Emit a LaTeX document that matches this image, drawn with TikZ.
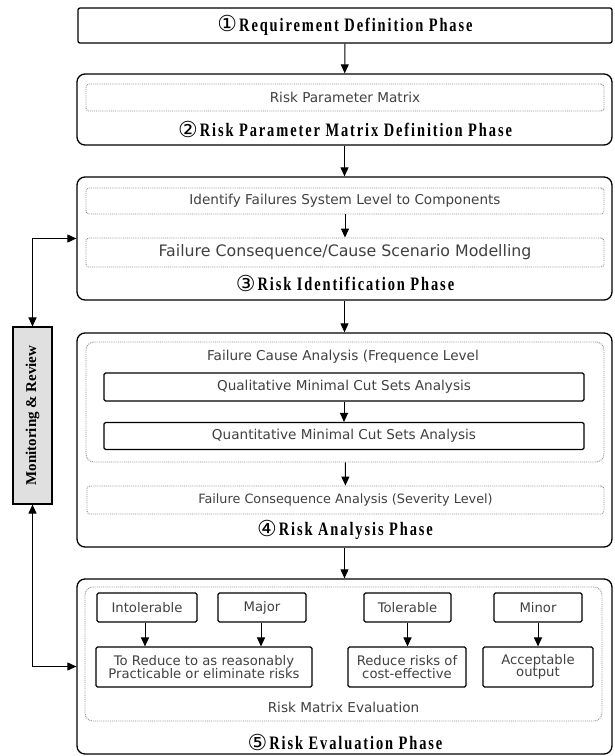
\documentclass[tikz,border=0pt]{standalone}
\usepackage{fontspec}
\usetikzlibrary{arrows.meta}
\newfontfamily\headfont[FakeStretch=0.76,LetterSpace=10]{Liberation Serif}
\newfontfamily\numfont{DejaVu Sans}
\newfontfamily\bodyfont{DejaVu Sans}
\newfontfamily\sidefont{Liberation Serif}
\newcommand{\phasetitle}[2]{\raisebox{-0.5pt}{\numfont\fontsize{22}{22}\selectfont #1}\hspace{2pt}{\headfont\bfseries\fontsize{19}{19}\selectfont #2}}
\definecolor{bodygray}{gray}{0.25}
\definecolor{dotgray}{gray}{0.55}
\definecolor{sidefill}{gray}{0.88}
\tikzset{
  phase/.style={draw, line width=1.3pt, rounded corners=8pt, inner sep=0pt},
  topbox/.style={draw, line width=1.3pt, rounded corners=2pt, inner sep=0pt},
  dotbox/.style={draw=dotgray, densely dotted, line width=0.9pt, rounded corners=3pt, inner sep=0pt},
  solidbox/.style={draw, line width=1.1pt, rounded corners=1.5pt, inner sep=0pt, align=center},
  body/.style={text=bodygray, font=\bodyfont\fontsize{13.6}{14}\selectfont},
  small/.style={text=bodygray, font=\bodyfont\fontsize{13.2}{12.2}\selectfont, align=center},
  label/.style={inner sep=0pt},
  arr/.style={line width=1pt, -{Triangle[length=9pt,width=8pt]}},
  twoarr/.style={line width=1pt, {Triangle[length=9pt,width=8pt]}-{Triangle[length=9pt,width=8pt]}},
}
\begin{document}
\begin{tikzpicture}[x=1pt,y=-1pt]
\useasboundingbox (0,0) rectangle (615,756);

% phase 1
\node[topbox, minimum width=534, minimum height=35] (p1) at (345,25.5)
  {\phasetitle{①}{Requirement Definition Phase}};

% phase 2
\node[phase, minimum width=535, minimum height=71] (p2) at (344.5,109.5) {};
\node[dotbox, minimum width=518, minimum height=27, body] (rpm) at (345,97.5) {Risk Parameter Matrix};
\node[label] (l2) at (345,129) {\phasetitle{②}{Risk Parameter Matrix Definition Phase}};

% phase 3
\node[phase, minimum width=535, minimum height=123] (p3) at (344.5,238.5) {};
\node[dotbox, minimum width=518, minimum height=26, body] (idf) at (345,201) {Identify Failures System Level to Components};
\node[dotbox, minimum width=518, minimum height=29, body, font=\bodyfont\fontsize{15.8}{16}\selectfont] (fcs) at (345,252.5) {Failure Consequence/Cause Scenario Modelling};
\node[label] (l3) at (345,283) {\phasetitle{③}{Risk Identification Phase}};

% phase 4
\node[phase, minimum width=535, minimum height=214] (p4) at (344.5,440) {};
\node[dotbox, minimum width=518, minimum height=120, rounded corners=8pt] (fca) at (345,402) {};
\node[label, body] (fcal) at (343,357) {Failure Cause Analysis (Frequence Level};
\node[solidbox, minimum width=480, minimum height=28, body] (qual) at (344,387) {Qualitative Minimal Cut Sets Analysis};
\node[solidbox, minimum width=480, minimum height=27, body] (quant) at (344,436) {Quantitative Minimal Cut Sets Analysis};
\node[dotbox, minimum width=517, minimum height=28, body, font=\bodyfont\fontsize{12.8}{13}\selectfont] (fcon) at (345.5,500) {Failure Consequence Analysis (Severity Level)};
\node[label] (l4) at (345,530) {\phasetitle{④}{Risk Analysis Phase}};

% phase 5
\node[phase, minimum width=535, minimum height=175] (p5) at (344.5,666.5) {};
\node[dotbox, minimum width=517, minimum height=134, rounded corners=8pt] (rme) at (343.5,654) {};
\node[solidbox, minimum width=100, minimum height=29, body, font=\bodyfont\fontsize{13.2}{13}\selectfont] (intol) at (147,607.5) {Intolerable};
\node[solidbox, minimum width=88, minimum height=29, body, font=\bodyfont\fontsize{13.2}{13}\selectfont] (major) at (262,607.5) {Major};
\node[solidbox, minimum width=87, minimum height=29, body, font=\bodyfont\fontsize{13.2}{13}\selectfont] (toler) at (407.5,607.5) {Tolerable};
\node[solidbox, minimum width=88, minimum height=29, body, font=\bodyfont\fontsize{13.2}{13}\selectfont] (minor) at (538,607.5) {Minor};
\node[solidbox, minimum width=216, minimum height=40, small] (alarp) at (204,667) {To Reduce to as reasonably\\Practicable or eliminate risks};
\node[solidbox, minimum width=118, minimum height=40, small] (cost) at (407,667) {Reduce risks of\\cost-effective};
\node[solidbox, minimum width=110, minimum height=40, small] (accept) at (538,667) {Acceptable\\output};
\node[label, body] (rmel) at (343.5,707) {Risk Matrix Evaluation};
\node[label] (l5) at (345,742) {\phasetitle{⑤}{Risk Evaluation Phase}};

% monitoring & review
\node[draw, line width=1.1pt, fill=sidefill, minimum width=39, minimum height=177, inner sep=0pt] (mon) at (32.5,415.5)
  {\rotatebox{90}{\sidefont\bfseries\fontsize{15}{15}\selectfont Monitoring \& Review}};

% phase-to-phase flow
\draw[arr] (p1) -- (p2);
\draw[arr] (p2) -- (p3);
\draw[arr] (p3) -- (p4);
\draw[arr] (p4) -- (p5);

% flows inside the phases
\draw[arr] (idf) -- (fcs);
\draw[arr] (qual) -- (quant);
\draw[arr] (fca) -- (fcon);
\draw[arr] (intol.south -| 145,0) -- (alarp.north -| 145,0);
\draw[arr] (major.south -| 261,0) -- (alarp.north -| 261,0);
\draw[arr] (toler) -- (toler |- cost.north);
\draw[arr] (minor) -- (minor |- accept.north);

% monitoring & review loop
\draw[twoarr] (mon.north) |- (p3.west);
\draw[twoarr] (mon.south) |- (p5.west);
\end{tikzpicture}
\end{document}
